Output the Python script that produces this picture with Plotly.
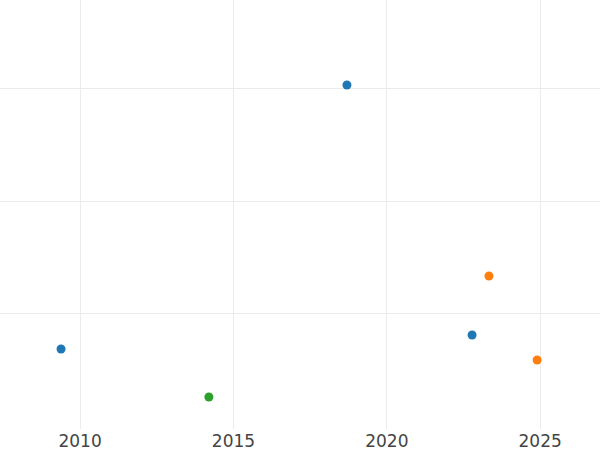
import plotly.graph_objects as go

blue_x = [2009.38, 2018.70, 2022.78]
blue_y = [6.90, 30.27, 8.14]
orange_x = [2023.33, 2024.90]
orange_y = [13.36, 5.93]
green_x = [2014.20]
green_y = [2.65]

x_ticks = [2010, 2015, 2020, 2025]
y_ticks = [10, 20, 30]

fig = go.Figure()
for xs, ys, c in [(blue_x, blue_y, "#1f77b4"), (orange_x, orange_y, "#ff7f0e"), (green_x, green_y, "#2ca02c")]:
    fig.add_trace(go.Scatter(x=xs, y=ys, mode="markers", marker=dict(size=9, color=c),
                             showlegend=False, hoverinfo="skip"))

fig.update_layout(
    width=600, height=450,
    margin=dict(l=0, r=0, t=0, b=21),
    paper_bgcolor="white", plot_bgcolor="white",
    font=dict(family="DejaVu Sans", size=17, color="#444444"),
    xaxis=dict(range=[2007.39, 2026.95], tickvals=x_ticks, showgrid=True, gridcolor="#ebebeb",
               gridwidth=1.25, zeroline=False, showline=False, ticks=""),
    yaxis=dict(range=[-0.18, 37.79], tickvals=y_ticks, showgrid=True, gridcolor="#ebebeb",
               gridwidth=1.25, zeroline=False, showline=False, showticklabels=False, ticks=""),
)
fig.write_html("out.html", config={"displayModeBar": False},
               post_script="document.body.style.margin='0';document.body.style.padding='0';")
